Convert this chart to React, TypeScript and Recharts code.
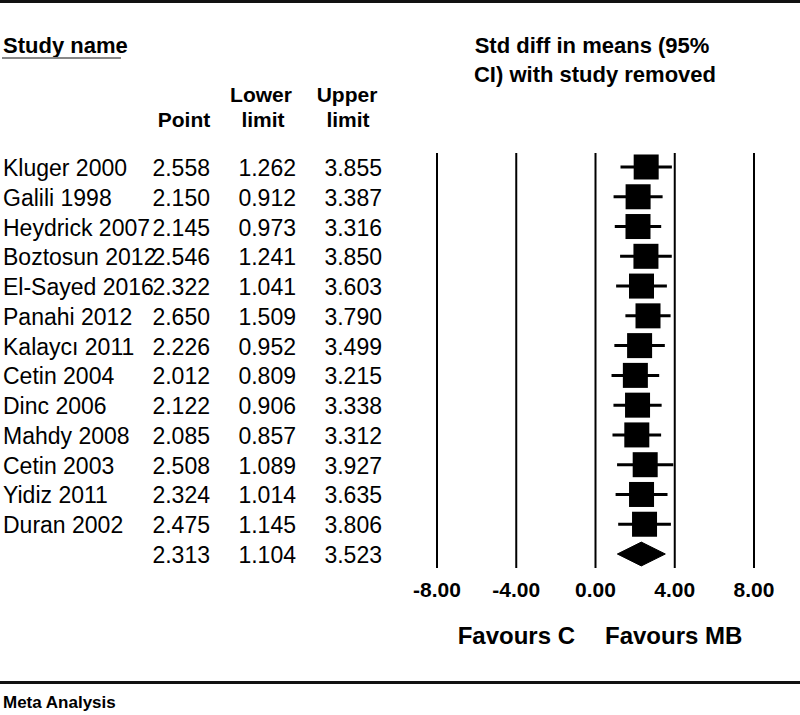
import {
  ComposedChart,
  Scatter,
  ErrorBar,
  Area,
  XAxis,
  YAxis,
  ReferenceLine,
} from "recharts";

const FONT = "'Liberation Sans', Arial, Helvetica, sans-serif";

const studyNames = [
  "Kluger 2000",
  "Galili 1998",
  "Heydrick 2007",
  "Boztosun 2012",
  "El-Sayed 2016",
  "Panahi 2012",
  "Kalaycı 2011",
  "Cetin 2004",
  "Dinc 2006",
  "Mahdy 2008",
  "Cetin 2003",
  "Yidiz 2011",
  "Duran 2002",
];
const pointValues = [2.558, 2.15, 2.145, 2.546, 2.322, 2.65, 2.226, 2.012, 2.122, 2.085, 2.508, 2.324, 2.475];
const lowerLimits = [1.262, 0.912, 0.973, 1.241, 1.041, 1.509, 0.952, 0.809, 0.906, 0.857, 1.089, 1.014, 1.145];
const upperLimits = [3.855, 3.387, 3.316, 3.85, 3.603, 3.79, 3.499, 3.215, 3.338, 3.312, 3.927, 3.635, 3.806];

const overallPoint = 2.313;
const overallLower = 1.104;
const overallUpper = 3.523;

const xTicks = [-8, -4, 0, 4, 8];

// rows: one per study + summary row at the bottom
const studyRows = studyNames.map((name, i) => ({
  name,
  x: pointValues[i],
  y: i + 1,
  lower: lowerLimits[i],
  upper: upperLimits[i],
  err: [pointValues[i] - lowerLimits[i], upperLimits[i] - pointValues[i]],
}));
const summaryRow = studyNames.length + 1;
const tableRows = [
  ...studyRows,
  { name: "", x: overallPoint, y: summaryRow, lower: overallLower, upper: overallUpper },
];
const rowTicks = tableRows.map((r) => r.y);

// diamond for the overall effect, as a range area
const diamondHalf = 0.4;
const diamondData = [
  { x: overallLower, y: [summaryRow, summaryRow] },
  { x: overallPoint, y: [summaryRow - diamondHalf, summaryRow + diamondHalf] },
  { x: overallUpper, y: [summaryRow, summaryRow] },
];

function TableTick(props: any) {
  const { y, payload } = props;
  const row = tableRows[payload.value - 1];
  if (!row) return null;
  const by = y + 9;
  return (
    <g fontFamily={FONT} fontSize={23} fill="#000">
      <text x={3} y={by}>{row.name}</text>
      <text x={210} y={by} textAnchor="end">{row.x.toFixed(3)}</text>
      <text x={296} y={by} textAnchor="end">{row.lower.toFixed(3)}</text>
      <text x={382} y={by} textAnchor="end">{row.upper.toFixed(3)}</text>
    </g>
  );
}

function SquareShape(props: any) {
  const { cx, cy } = props;
  const s = 25;
  return <rect x={cx - s / 2} y={cy - s / 2} width={s} height={s} fill="#000" />;
}

export default function App() {
  return (
    <div style={{ position: "absolute", left: 0, top: 0, width: 800, height: 715, background: "#fff" }}>
      <ComposedChart
        width={800}
        height={715}
        margin={{ top: 153, right: 46, bottom: 107, left: 0 }}
      >
        <XAxis
          type="number"
          dataKey="x"
          domain={[-8, 8]}
          ticks={xTicks}
          allowDataOverflow
          axisLine={false}
          tickLine={false}
          tickMargin={8}
          height={40}
          tickFormatter={(v: number) => v.toFixed(2)}
          tick={{ fontFamily: FONT, fontSize: 21, fontWeight: "bold", fill: "#000" }}
        />
        <YAxis
          type="number"
          dataKey="y"
          domain={[0.53, 14.47]}
          reversed
          ticks={rowTicks}
          allowDataOverflow
          interval={0}
          axisLine={false}
          tickLine={false}
          width={437}
          tick={<TableTick />}
        />
        {xTicks.map((v) => (
          <ReferenceLine key={v} x={v} stroke="#000" strokeWidth={2} />
        ))}
        <Area
          data={diamondData}
          dataKey="y"
          type="linear"
          stroke="#000"
          strokeWidth={1}
          fill="#000"
          fillOpacity={1}
          isAnimationActive={false}
          dot={false}
          activeDot={false}
        />
        <Scatter data={studyRows} shape={<SquareShape />} isAnimationActive={false}>
          <ErrorBar dataKey="err" direction="x" width={0} strokeWidth={3} stroke="#000" />
        </Scatter>
      </ComposedChart>

      <svg
        width={800}
        height={715}
        style={{ position: "absolute", left: 0, top: 0, pointerEvents: "none" }}
        fontFamily={FONT}
      >
        <rect x={0} y={0} width={800} height={3} fill="#111" />
        <text x={3} y={53} fontSize={22} fontWeight="bold">Study name</text>
        <rect x={2} y={57} width={119} height={2} fill="#888" />
        <g fontSize={21} fontWeight="bold" textAnchor="middle">
          <text x={184} y={127}>Point</text>
          <text x={261} y={102}>Lower</text>
          <text x={263} y={127}>limit</text>
          <text x={347} y={102}>Upper</text>
          <text x={348} y={127}>limit</text>
        </g>
        <g fontSize={22} fontWeight="bold" textAnchor="middle">
          <text x={592} y={53}>Std diff in means (95%</text>
          <text x={595} y={82}>CI) with study removed</text>
        </g>
        <g fontSize={24} fontWeight="bold">
          <text x={575} y={644} textAnchor="end">Favours C</text>
          <text x={605} y={644}>Favours MB</text>
        </g>
        <rect x={0} y={681} width={800} height={3} fill="#111" />
        <text x={3} y={708} fontSize={17} fontWeight="bold">Meta Analysis</text>
      </svg>
    </div>
  );
}
